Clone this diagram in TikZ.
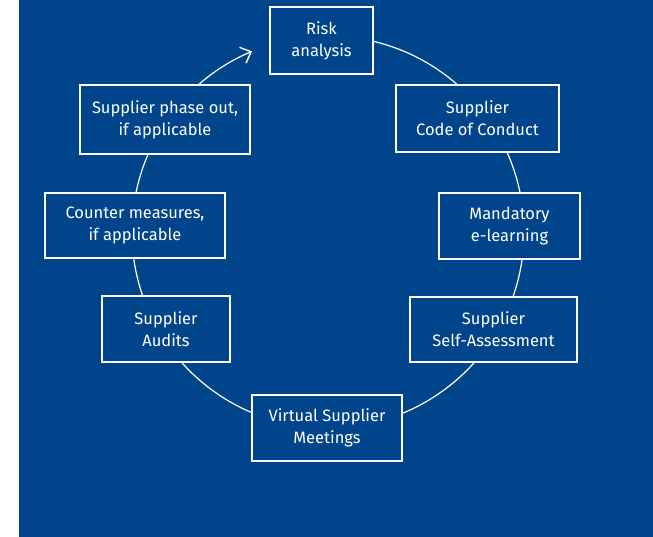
\documentclass[tikz,border=0pt]{standalone}
\usepackage{fontspec}
\setmainfont{Fira Sans}
\usetikzlibrary{arrows.meta,backgrounds}
\definecolor{navy}{HTML}{00458B}
\definecolor{ink}{HTML}{FFFFFF}
\tikzset{
  ring/.style={draw=ink,line width=1.2pt,-{Straight Barb[length=9pt,width=17pt,line width=1.4pt]}},
  stage/.style={draw=ink,fill=navy,line width=1.3pt,align=center,text=ink,inner sep=2pt,font=\fontsize{16.5}{22}\selectfont},
  start/.style={stage,line width=2.6pt}
}
\begin{document}
\begin{tikzpicture}[x=1pt,y=1pt]
  \useasboundingbox (0,0) rectangle (653,-537);
  \fill[navy] (19,0) rectangle (653,-537);

  \coordinate (hub) at (328,-232);
  \draw[ring] ([shift={(77:196)}]hub) arc[start angle=77,end angle=-247.2,radius=196];

  \node[start,minimum width=103,minimum height=67] (risk) at (321.5,-40.5) {Risk\\analysis};
  \node[stage,minimum width=163,minimum height=67] (conduct) at (477.5,-118.5) {Supplier\\Code of Conduct};
  \node[stage,minimum width=141,minimum height=66] (elearning) at (509.5,-226) {Mandatory\\e-learning};
  \node[stage,minimum width=167,minimum height=65] (selfassess) at (493.5,-329.5) {Supplier\\Self-Assessment};
  \node[stage,minimum width=150,minimum height=66] (meetings) at (327,-428) {Virtual Supplier\\Meetings};
  \node[stage,minimum width=128,minimum height=66] (audits) at (166,-329) {Supplier\\Audits};
  \node[stage,minimum width=180,minimum height=65] (counter) at (135,-225.5) {Counter measures,\\if applicable};
  \node[stage,minimum width=170,minimum height=69] (phaseout) at (165,-119.5) {Supplier phase out,\\if applicable};
\end{tikzpicture}
\end{document}
